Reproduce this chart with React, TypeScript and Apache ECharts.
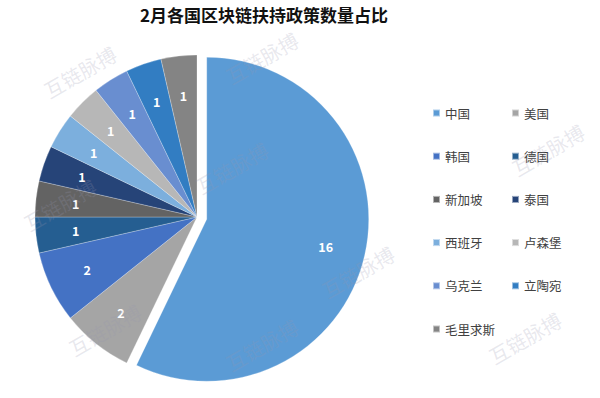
import React, { useEffect, useRef } from "react";
import * as echarts from "echarts";

const titleText = "2月各国区块链扶持政策数量占比";
const countries = ["中国", "美国", "韩国", "德国", "新加坡", "泰国", "西班牙", "卢森堡", "乌克兰", "立陶宛", "毛里求斯"];
const counts = [16, 2, 2, 1, 1, 1, 1, 1, 1, 1, 1];
const colors = ["#5B9BD5", "#A5A5A5", "#4472C4", "#255E91", "#636363", "#264478", "#7CAFDD", "#B7B7B7", "#698ED0", "#327DC2", "#848484"];
const legendLeft = ["中国", "韩国", "新加坡", "西班牙", "乌克兰", "毛里求斯"];
const legendRight = ["美国", "德国", "泰国", "卢森堡", "立陶宛"];
const watermarkText = "互链脉搏";
const watermarkSpots = [
  [80, 72], [262, 58], [548, 150], [232, 168], [358, 272], [105, 330], [525, 338], [262, 345], [60, 205],
];

export default function App() {
  const ref = useRef<HTMLDivElement>(null);
  useEffect(() => {
    if (!ref.current) return;
    const chart = echarts.init(ref.current, undefined, { renderer: "svg" });
    const font = "'Noto Sans CJK SC', 'Noto Sans', sans-serif";
    const data = countries.map((n, i) => ({
      name: n,
      value: counts[i],
      selected: i === 0,
      itemStyle: { color: colors[i] },
    }));
    const labelData = countries.map((n, i) => ({
      name: n,
      value: counts[i],
      selected: i === 0,
    }));
    const legendCommon = {
      orient: "vertical" as const,
      top: 101,
      itemWidth: 7,
      itemHeight: 7,
      icon: "rect",
      itemGap: 29.2,
      selectedMode: false,
      textStyle: { color: "#404040", fontSize: 12.5, fontFamily: font, lineHeight: 14 },
    };
    chart.setOption({
      animation: false,
      backgroundColor: "#ffffff",
      title: {
        text: titleText,
        left: 135,
        top: 1,
        textStyle: { color: "#111", fontSize: 17, fontWeight: "bold", fontFamily: font },
      },
      legend: [
        { ...legendCommon, left: 427, data: legendLeft },
        { ...legendCommon, left: 506, data: legendRight },
      ],
      graphic: watermarkSpots.map(([x, y]) => ({
        type: "text",
        x,
        y,
        rotation: Math.PI / 6,
        z: 100,
        silent: true,
        style: {
          text: watermarkText,
          fontSize: 20,
          fontFamily: font,
          fill: "rgba(150,150,175,0.22)",
          align: "center",
          verticalAlign: "middle",
        },
      })),
      series: [
        {
          type: "pie",
          center: [197, 217],
          radius: [0, 162],
          startAngle: 90,
          clockwise: true,
          selectedMode: "single",
          selectedOffset: 10,
          silent: true,
          label: { show: false },
          labelLine: { show: false },
          itemStyle: { borderColor: "rgba(255,255,255,0.5)", borderWidth: 0.5 },
          emphasis: { disabled: true },
          data,
        },
        {
          type: "pie",
          center: [197, 217],
          radius: [76, 162],
          startAngle: 90,
          clockwise: true,
          selectedMode: "single",
          selectedOffset: 10,
          silent: true,
          itemStyle: { color: "rgba(0,0,0,0)" },
          label: {
            show: true,
            position: "inside",
            formatter: "{c}",
            color: "#ffffff",
            fontSize: 12.5,
            fontWeight: "bold",
            fontFamily: font,
          },
          labelLine: { show: false },
          emphasis: { disabled: true },
          data: labelData,
        },
      ],
    });
    return () => chart.dispose();
  }, []);
  return <div ref={ref} style={{ position: "fixed", left: 0, top: 0, width: 600, height: 398 }} />;
}
